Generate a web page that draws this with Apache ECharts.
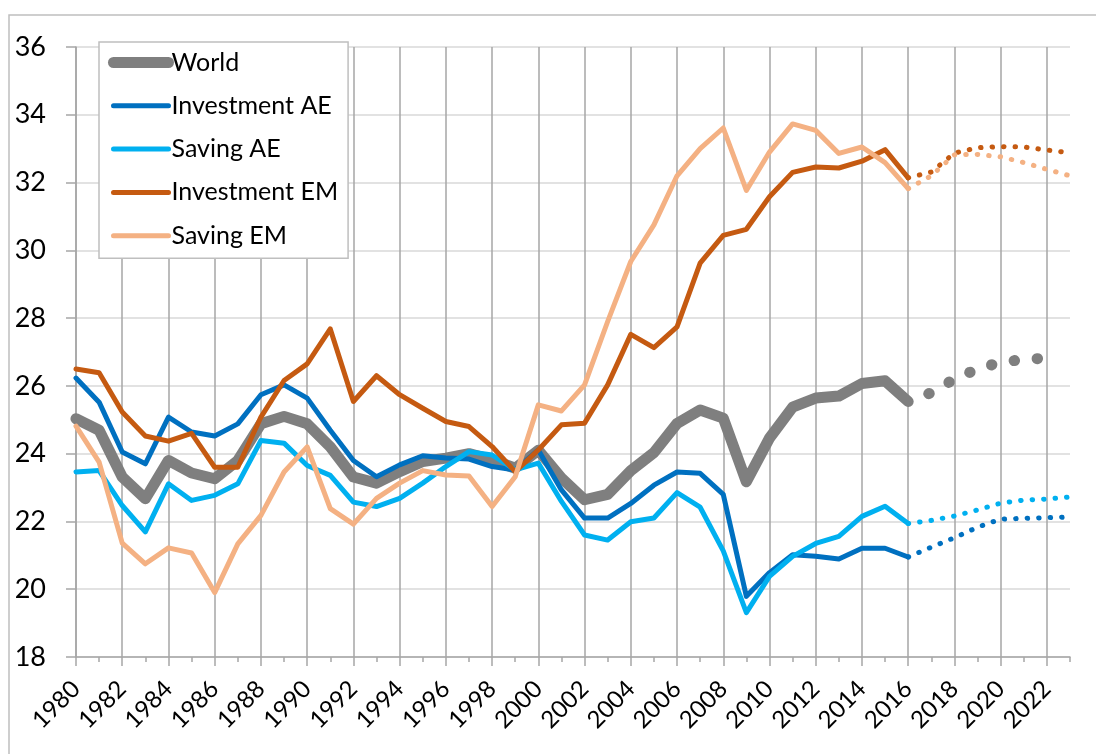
<!doctype html>
<html lang="en">
<head>
    <meta charset="UTF-8">
    <script src="https://cdn.jsdelivr.net/npm/echarts@6/dist/echarts.min.js"></script>
    <title>Investment and saving</title>
    <style>
        html, body { margin: 0; padding: 0; background: #fff; }
    </style>
</head>
<body>
<div id="main" style="width: 1096px;height:754px;"></div>
<script>
    var years = ['1980','1981','1982','1983','1984','1985','1986','1987','1988','1989',
        '1990','1991','1992','1993','1994','1995','1996','1997','1998','1999',
        '2000','2001','2002','2003','2004','2005','2006','2007','2008','2009',
        '2010','2011','2012','2013','2014','2015','2016','2017','2018','2019',
        '2020','2021','2022','2023'];

    // 1980 - 2016, actual
    var world = [25.03, 24.69, 23.31, 22.67, 23.8, 23.43, 23.26, 23.8, 24.88, 25.1,
        24.88, 24.2, 23.31, 23.13, 23.47, 23.77, 23.87, 24.0, 23.82, 23.57,
        24.1, 23.28, 22.64, 22.8, 23.5, 24.03, 24.89, 25.29, 25.05, 23.17,
        24.46, 25.37, 25.64, 25.7, 26.07, 26.15, 25.54];
    var investAE = [26.23, 25.52, 24.05, 23.7, 25.08, 24.64, 24.52, 24.88, 25.74, 26.03,
        25.64, 24.69, 23.8, 23.32, 23.67, 23.94, 23.87, 23.84, 23.62, 23.52,
        24.11, 22.93, 22.1, 22.1, 22.53, 23.07, 23.46, 23.42, 22.8, 19.79,
        20.49, 21.02, 20.97, 20.89, 21.21, 21.21, 20.95];
    var savingAE = [23.46, 23.5, 22.47, 21.69, 23.11, 22.62, 22.77, 23.11, 24.39, 24.31,
        23.65, 23.36, 22.57, 22.44, 22.68, 23.13, 23.62, 24.06, 23.96, 23.52,
        23.72, 22.59, 21.6, 21.45, 21.99, 22.1, 22.85, 22.42, 21.13, 19.31,
        20.38, 20.97, 21.35, 21.56, 22.15, 22.45, 21.94];
    var investEM = [26.5, 26.39, 25.23, 24.52, 24.37, 24.6, 23.6, 23.6, 25.08, 26.16,
        26.65, 27.68, 25.54, 26.3, 25.74, 25.34, 24.95, 24.8, 24.21, 23.47,
        24.11, 24.85, 24.9, 26.03, 27.52, 27.13, 27.74, 29.62, 30.44, 30.62,
        31.58, 32.3, 32.46, 32.43, 32.63, 32.97, 32.14];
    var savingEM = [24.81, 23.75, 21.36, 20.75, 21.22, 21.07, 19.9, 21.34, 22.18, 23.46,
        24.2, 22.38, 21.92, 22.68, 23.13, 23.5, 23.37, 23.34, 22.44, 23.32,
        25.44, 25.26, 26.03, 27.9, 29.67, 30.75, 32.2, 33.0, 33.61, 31.77,
        32.9, 33.73, 33.54, 32.86, 33.05, 32.59, 31.82];

    // 2016 onwards, projections
    var worldProj = [25.54, 25.8, 26.2, 26.5, 26.7, 26.78, 26.82];
    var investAEProj = [20.95, 21.24, 21.52, 21.83, 22.07, 22.09, 22.11, 22.13];
    var savingAEProj = [21.94, 22.03, 22.16, 22.34, 22.54, 22.63, 22.66, 22.72];
    var investEMProj = [32.14, 32.31, 32.87, 33.03, 33.06, 33.05, 32.96, 32.88];
    var savingEMProj = [31.82, 32.2, 32.82, 32.83, 32.76, 32.59, 32.39, 32.2];

    var names = ['World', 'Investment AE', 'Saving AE', 'Investment EM', 'Saving EM'];
    var colors = ['#7f7f7f', '#0070c0', '#00b0f0', '#c55a11', '#f4b183'];

    var projStart = years.indexOf('2016');

    function padProj(arr) {
        var out = [];
        for (var i = 0; i < projStart; i++) out.push(null);
        return out.concat(arr);
    }

    var actual = [world, investAE, savingAE, investEM, savingEM];
    var proj = [worldProj, investAEProj, savingAEProj, investEMProj, savingEMProj];

    var series = [];
    for (var i = 0; i < names.length; i++) {
        var w = i === 0 ? 11 : 5;
        series.push({
            name: names[i],
            type: 'line',
            data: actual[i],
            symbol: 'none',
            clip: false,
            z: 3 + i,
            lineStyle: {color: colors[i], width: w, cap: 'round', join: 'round'},
            itemStyle: {color: colors[i]}
        });
        series.push({
            name: names[i] + ' projection',
            type: 'line',
            data: padProj(proj[i]),
            symbol: 'none',
            z: 3 + i,
            lineStyle: {
                color: colors[i],
                width: w,
                cap: 'round',
                type: i === 0 ? [0.5, 22.6] : [0.5, 11],
                dashOffset: i === 0 ? -22 : 0
            }
        });
    }

    // the 2016 divider
    series[0].markLine = {
        silent: true,
        symbol: 'none',
        label: {show: false},
        lineStyle: {color: '#808080', width: 3, type: 'solid'},
        data: [[{coord: ['2016', 35.17]}, {coord: ['2016', 17.35]}]]
    };

    var myChart = echarts.init(document.getElementById('main'));
    var option = {
        backgroundColor: '#fff',
        animation: false,
        textStyle: {fontFamily: 'Lato'},
        grid: {left: 76, right: 26, top: 47, bottom: 97, outerBoundsMode: 'none'},
        legend: {
            data: names,
            orient: 'vertical',
            left: 99,
            top: 42,
            padding: [8, 10, 10, 9],
            itemWidth: 55,
            itemHeight: 12,
            itemGap: 18.3,
            backgroundColor: '#fff',
            borderColor: '#bfbfbf',
            borderWidth: 1.5,
            borderRadius: 0,
            itemStyle: {opacity: 0},
            lineStyle: {width: 'inherit', cap: 'round'},
            textStyle: {fontSize: 25, lineHeight: 25, color: '#000', fontFamily: 'Lato', padding: [0, 0, 0, -2]}
        },
        graphic: [{
            type: 'rect',
            silent: true,
            shape: {x: 9, y: 15, width: 1200, height: 900},
            style: {fill: null, stroke: '#bfbfbf', lineWidth: 1.5}
        }],
        xAxis: [{
            type: 'category',
            data: years,
            boundaryGap: false,
            axisLine: {lineStyle: {color: '#a6a6a6', width: 1.5}},
            axisTick: {show: true, interval: 1, length: 9, lineStyle: {color: '#a6a6a6', width: 1.5}},
            axisLabel: {interval: 1, rotate: 45, fontSize: 24, color: '#000', margin: 28, fontFamily: 'Lato'},
            splitLine: {show: true, interval: 1, lineStyle: {color: '#a6a6a6', width: 1.5}}
        }, {
            type: 'category',
            data: years,
            boundaryGap: false,
            position: 'bottom',
            axisLine: {show: false},
            axisTick: {show: true, interval: 0, length: 5, lineStyle: {color: '#a6a6a6', width: 1.5}},
            axisLabel: {show: false},
            splitLine: {show: false}
        }],
        yAxis: {
            type: 'value',
            min: 18,
            max: 36,
            interval: 2,
            axisLine: {show: true, lineStyle: {color: '#a6a6a6', width: 1.5}},
            axisTick: {show: true, length: 10, lineStyle: {color: '#a6a6a6', width: 1.5}},
            axisLabel: {fontSize: 27, color: '#000', margin: 30, fontFamily: 'Lato'},
            splitLine: {show: true, lineStyle: {color: '#d9d9d9', width: 1.5}}
        },
        series: series
    };
    myChart.setOption(option);
</script>
</body>
</html>
